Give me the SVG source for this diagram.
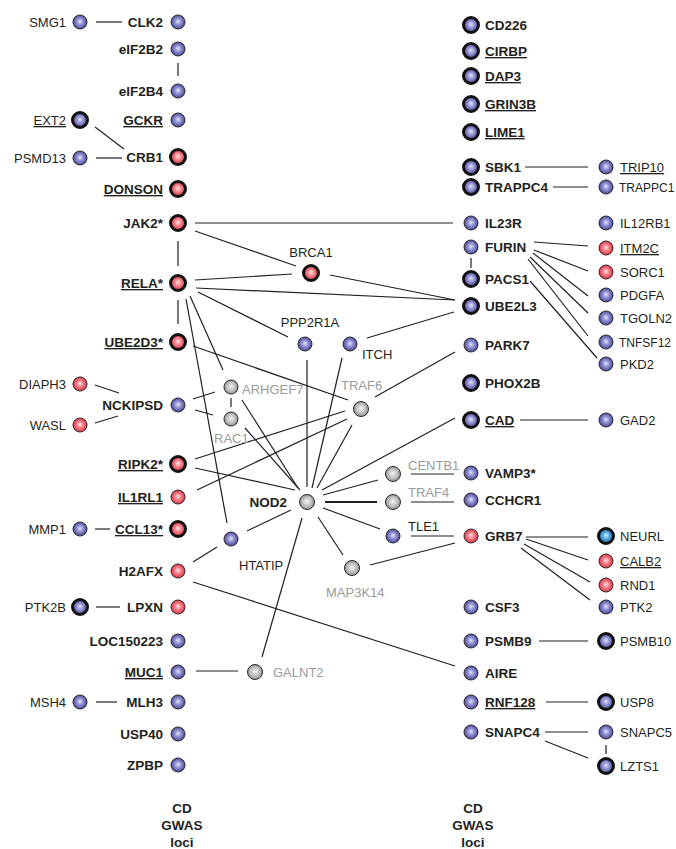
<svg xmlns="http://www.w3.org/2000/svg" width="676" height="849" viewBox="0 0 676 849">
<defs>
<radialGradient id="gb" cx="0.5" cy="0.5" r="0.55" fx="0.5" fy="0.45"><stop offset="0" stop-color="#e4e4f8"/><stop offset="0.45" stop-color="#8c8cd0"/><stop offset="1" stop-color="#3c3c90"/></radialGradient>
<radialGradient id="gr" cx="0.5" cy="0.5" r="0.55" fx="0.5" fy="0.45"><stop offset="0" stop-color="#ffe4e4"/><stop offset="0.45" stop-color="#f57a84"/><stop offset="1" stop-color="#d8243a"/></radialGradient>
<radialGradient id="gy" cx="0.5" cy="0.5" r="0.55" fx="0.5" fy="0.45"><stop offset="0" stop-color="#f6f6f6"/><stop offset="0.5" stop-color="#c4c4c4"/><stop offset="1" stop-color="#8c8c8c"/></radialGradient>
<radialGradient id="gc" cx="0.5" cy="0.5" r="0.55" fx="0.5" fy="0.45"><stop offset="0" stop-color="#d8f2ff"/><stop offset="0.45" stop-color="#4aa4dc"/><stop offset="1" stop-color="#1a64a8"/></radialGradient>
</defs>
<style>
circle{stroke:#2a2a2a;stroke-width:1}
.b{fill:url(#gb)} .r{fill:url(#gr)} .y{fill:url(#gy)} .c{fill:url(#gc)}
.k{stroke:#111;stroke-width:3}
text{font-family:"Liberation Sans",Arial,sans-serif}
.m{font-weight:bold;font-size:13.5px;fill:#231f20}
.p{font-size:13px;fill:#231f20}
.q{font-size:13px;fill:#9a9a9a}
.u{text-decoration:underline}
.e{text-anchor:end}
.mid{text-anchor:middle}
#edges line{stroke:#231f20;stroke-width:1.2}
</style>
<g id="edges">
<line x1="96" y1="22" x2="122" y2="22"/>
<line x1="178" y1="63" x2="178" y2="76"/>
<line x1="95" y1="127" x2="124" y2="149"/>
<line x1="96" y1="158" x2="122" y2="158"/>
<line x1="178" y1="241" x2="178" y2="266"/>
<line x1="178" y1="300" x2="178" y2="324"/>
<line x1="95" y1="385" x2="119" y2="393"/>
<line x1="95" y1="423" x2="118" y2="416"/>
<line x1="95" y1="529" x2="110" y2="529"/>
<line x1="96" y1="607" x2="120" y2="607"/>
<line x1="96" y1="702" x2="117" y2="702"/>
<line x1="196" y1="671" x2="238" y2="671"/>
<line x1="195" y1="223" x2="453" y2="223"/>
<line x1="195" y1="231" x2="296" y2="266"/>
<line x1="330" y1="275" x2="455" y2="300"/>
<line x1="195" y1="280" x2="292" y2="274"/>
<line x1="196" y1="288" x2="455" y2="300"/>
<line x1="198" y1="292" x2="288" y2="337"/>
<line x1="190" y1="296" x2="223" y2="370"/>
<line x1="186" y1="299" x2="227" y2="523"/>
<line x1="193" y1="346" x2="348" y2="400"/>
<line x1="193" y1="399" x2="215" y2="392"/>
<line x1="195" y1="410" x2="213" y2="415"/>
<line x1="231" y1="398" x2="231" y2="407"/>
<line x1="242" y1="400" x2="298" y2="488"/>
<line x1="245" y1="428" x2="300" y2="490"/>
<line x1="195" y1="459" x2="345" y2="411"/>
<line x1="195" y1="468" x2="295" y2="490"/>
<line x1="197" y1="490" x2="347" y2="419"/>
<line x1="307" y1="360" x2="307" y2="487"/>
<line x1="342" y1="358" x2="312" y2="488"/>
<line x1="352" y1="425" x2="317" y2="488"/>
<line x1="367" y1="338" x2="454" y2="312"/>
<line x1="375" y1="397" x2="455" y2="352"/>
<line x1="247" y1="531" x2="291" y2="510"/>
<line x1="193" y1="562" x2="217" y2="547"/>
<line x1="193" y1="582" x2="455" y2="666"/>
<line x1="322" y1="490" x2="455" y2="418"/>
<line x1="323" y1="495" x2="378" y2="480"/>
<line x1="325" y1="502" x2="377" y2="502" style="stroke-width:2.2"/>
<line x1="323" y1="508" x2="380" y2="529"/>
<line x1="318" y1="517" x2="343" y2="555"/>
<line x1="302" y1="518" x2="262" y2="657"/>
<line x1="370" y1="565" x2="455" y2="543"/>
<line x1="411" y1="474" x2="454" y2="474"/>
<line x1="411" y1="502" x2="454" y2="502"/>
<line x1="411" y1="536" x2="454" y2="536"/>
<line x1="525" y1="167" x2="588" y2="167"/>
<line x1="553" y1="187" x2="588" y2="187"/>
<line x1="471" y1="258" x2="471" y2="268"/>
<line x1="534" y1="242" x2="588" y2="246"/>
<line x1="534" y1="250" x2="588" y2="271"/>
<line x1="533" y1="253" x2="588" y2="296"/>
<line x1="530" y1="257" x2="588" y2="313"/>
<line x1="528" y1="259" x2="588" y2="336"/>
<line x1="530" y1="281" x2="597" y2="358"/>
<line x1="520" y1="420" x2="588" y2="420"/>
<line x1="526" y1="537" x2="588" y2="537"/>
<line x1="526" y1="539" x2="588" y2="560"/>
<line x1="524" y1="544" x2="590" y2="582"/>
<line x1="521" y1="548" x2="590" y2="600"/>
<line x1="539" y1="641" x2="588" y2="641"/>
<line x1="546" y1="702" x2="588" y2="702"/>
<line x1="545" y1="732" x2="588" y2="732"/>
<line x1="545" y1="741" x2="588" y2="758"/>
<line x1="606" y1="745" x2="606" y2="754"/>
</g>
<!-- left column -->
<g id="n-CLK2"><circle class="b" cx="178" cy="22" r="7"/><text class="m e" x="163" y="27">CLK2</text></g>
<g id="n-eIF2B2"><circle class="b" cx="178" cy="49" r="7"/><text class="m e" x="163" y="54">eIF2B2</text></g>
<g id="n-eIF2B4"><circle class="b" cx="178" cy="91" r="7"/><text class="m e" x="163" y="96">eIF2B4</text></g>
<g id="n-GCKR"><circle class="b" cx="178" cy="120" r="7"/><text class="m e u" x="163" y="125">GCKR</text></g>
<g id="n-CRB1"><circle class="r k" cx="178" cy="157" r="7.5"/><text class="m e" x="163" y="162">CRB1</text></g>
<g id="n-DONSON"><circle class="r k" cx="178" cy="189" r="7.5"/><text class="m e u" x="163" y="194">DONSON</text></g>
<g id="n-JAK2"><circle class="r k" cx="178" cy="223" r="7.5"/><text class="m e" x="163" y="228">JAK2*</text></g>
<g id="n-RELA"><circle class="r k" cx="178" cy="283" r="7.5"/><text class="m e u" x="163" y="288">RELA*</text></g>
<g id="n-UBE2D3"><circle class="r k" cx="178" cy="342" r="7.5"/><text class="m e u" x="163" y="347">UBE2D3*</text></g>
<g id="n-NCKIPSD"><circle class="b" cx="178" cy="405" r="7"/><text class="m e" x="163" y="410">NCKIPSD</text></g>
<g id="n-RIPK2"><circle class="r k" cx="178" cy="464" r="7.5"/><text class="m e u" x="163" y="469">RIPK2*</text></g>
<g id="n-IL1RL1"><circle class="r" cx="178" cy="497" r="7"/><text class="m e u" x="163" y="502">IL1RL1</text></g>
<g id="n-CCL13"><circle class="r k" cx="178" cy="529" r="7.5"/><text class="m e u" x="163" y="534">CCL13*</text></g>
<g id="n-H2AFX"><circle class="r" cx="178" cy="571" r="7"/><text class="m e" x="163" y="576">H2AFX</text></g>
<g id="n-LPXN"><circle class="r" cx="178" cy="607" r="7"/><text class="m e" x="163" y="612">LPXN</text></g>
<g id="n-LOC150223"><circle class="b" cx="178" cy="641" r="7"/><text class="m e" x="163" y="646">LOC150223</text></g>
<g id="n-MUC1"><circle class="b" cx="178" cy="672" r="7"/><text class="m e u" x="163" y="677">MUC1</text></g>
<g id="n-MLH3"><circle class="b" cx="178" cy="702" r="7"/><text class="m e" x="163" y="707">MLH3</text></g>
<g id="n-USP40"><circle class="b" cx="178" cy="734" r="7"/><text class="m e" x="163" y="739">USP40</text></g>
<g id="n-ZPBP"><circle class="b" cx="178" cy="765" r="7"/><text class="m e" x="163" y="770">ZPBP</text></g>
<!-- left partners -->
<g id="n-SMG1"><circle class="b" cx="80" cy="22" r="7"/><text class="p e" x="66" y="27">SMG1</text></g>
<g id="n-EXT2"><circle class="b k" cx="80" cy="120" r="7.5"/><text class="p e u" x="66" y="125">EXT2</text></g>
<g id="n-PSMD13"><circle class="b" cx="80" cy="158" r="7"/><text class="p e" x="66" y="163">PSMD13</text></g>
<g id="n-DIAPH3"><circle class="r" cx="80" cy="384" r="7"/><text class="p e" x="66" y="389">DIAPH3</text></g>
<g id="n-WASL"><circle class="r" cx="80" cy="425" r="7"/><text class="p e" x="66" y="430">WASL</text></g>
<g id="n-MMP1"><circle class="b" cx="80" cy="529" r="7"/><text class="p e" x="66" y="534">MMP1</text></g>
<g id="n-PTK2B"><circle class="b k" cx="80" cy="607" r="7.5"/><text class="p e" x="66" y="612">PTK2B</text></g>
<g id="n-MSH4"><circle class="b" cx="80" cy="702" r="7"/><text class="p e" x="66" y="707">MSH4</text></g>
<!-- central -->
<g id="n-BRCA1"><circle class="r k" cx="311" cy="273" r="7.5"/><text class="p mid" x="311" y="257">BRCA1</text></g>
<g id="n-PPP2R1A"><circle class="b" cx="305" cy="344" r="7"/><text class="p mid" x="310" y="327">PPP2R1A</text></g>
<g id="n-ITCH"><circle class="b" cx="350" cy="344" r="7"/><text class="p" x="362" y="359">ITCH</text></g>
<g id="n-ARHGEF7"><circle class="y" cx="231" cy="387" r="7"/><text class="q" x="242" y="394">ARHGEF7</text></g>
<g id="n-RAC1"><circle class="y" cx="231" cy="419" r="7"/><text class="q" x="214" y="443">RAC1</text></g>
<g id="n-TRAF6"><circle class="y" cx="361" cy="409" r="7.5"/><text class="q" x="341" y="390">TRAF6</text></g>
<g id="n-NOD2"><circle class="y" cx="307" cy="502" r="7.5"/><text class="m e" x="287" y="507">NOD2</text></g>
<g id="n-CENTB1"><circle class="y" cx="393" cy="474" r="7.5"/><text class="q" x="408" y="470">CENTB1</text></g>
<g id="n-TRAF4"><circle class="y" cx="393" cy="502" r="7.5"/><text class="q" x="408" y="497">TRAF4</text></g>
<g id="n-TLE1"><circle class="b" cx="393" cy="536" r="7"/><text class="p" x="408" y="531">TLE1</text></g>
<g id="n-HTATIP"><circle class="b" cx="231" cy="539" r="7"/><text class="p" x="239" y="570">HTATIP</text></g>
<g id="n-MAP3K14"><circle class="y" cx="352" cy="568" r="7.5"/><text class="q" x="326" y="597">MAP3K14</text></g>
<g id="n-GALNT2"><circle class="y" cx="255" cy="672" r="7.5"/><text class="q" x="273" y="677">GALNT2</text></g>
<!-- right column -->
<g id="n-CD226"><circle class="b k" cx="471" cy="25" r="7.5"/><text class="m" x="485" y="30">CD226</text></g>
<g id="n-CIRBP"><circle class="b k" cx="471" cy="51" r="7.5"/><text class="m u" x="485" y="56">CIRBP</text></g>
<g id="n-DAP3"><circle class="b k" cx="471" cy="76" r="7.5"/><text class="m u" x="485" y="81">DAP3</text></g>
<g id="n-GRIN3B"><circle class="b k" cx="471" cy="104" r="7.5"/><text class="m u" x="485" y="109">GRIN3B</text></g>
<g id="n-LIME1"><circle class="b k" cx="471" cy="132" r="7.5"/><text class="m u" x="485" y="137">LIME1</text></g>
<g id="n-SBK1"><circle class="b k" cx="471" cy="167" r="7.5"/><text class="m" x="485" y="172">SBK1</text></g>
<g id="n-TRAPPC4"><circle class="b k" cx="471" cy="187" r="7.5"/><text class="m" x="485" y="192">TRAPPC4</text></g>
<g id="n-IL23R"><circle class="b" cx="471" cy="223" r="7"/><text class="m" x="485" y="228">IL23R</text></g>
<g id="n-FURIN"><circle class="b" cx="471" cy="247" r="7"/><text class="m" x="485" y="252">FURIN</text></g>
<g id="n-PACS1"><circle class="b k" cx="471" cy="279" r="7.5"/><text class="m" x="485" y="284">PACS1</text></g>
<g id="n-UBE2L3"><circle class="b k" cx="471" cy="306" r="7.5"/><text class="m" x="485" y="311">UBE2L3</text></g>
<g id="n-PARK7"><circle class="b" cx="471" cy="345" r="7"/><text class="m" x="485" y="350">PARK7</text></g>
<g id="n-PHOX2B"><circle class="b k" cx="471" cy="383" r="7.5"/><text class="m" x="485" y="388">PHOX2B</text></g>
<g id="n-CAD"><circle class="b k" cx="471" cy="420" r="7.5"/><text class="m u" x="485" y="425">CAD</text></g>
<g id="n-VAMP3"><circle class="b" cx="471" cy="473" r="7"/><text class="m" x="485" y="478">VAMP3*</text></g>
<g id="n-CCHCR1"><circle class="b" cx="471" cy="500" r="7"/><text class="m" x="485" y="505">CCHCR1</text></g>
<g id="n-GRB7"><circle class="r" cx="471" cy="536" r="7"/><text class="m" x="485" y="541">GRB7</text></g>
<g id="n-CSF3"><circle class="b" cx="471" cy="607" r="7"/><text class="m" x="485" y="612">CSF3</text></g>
<g id="n-PSMB9"><circle class="b" cx="471" cy="641" r="7"/><text class="m" x="485" y="646">PSMB9</text></g>
<g id="n-AIRE"><circle class="b" cx="471" cy="673" r="7"/><text class="m" x="485" y="678">AIRE</text></g>
<g id="n-RNF128"><circle class="b" cx="471" cy="702" r="7"/><text class="m u" x="485" y="707">RNF128</text></g>
<g id="n-SNAPC4"><circle class="b" cx="471" cy="732" r="7"/><text class="m" x="485" y="737">SNAPC4</text></g>
<!-- right partners -->
<g id="n-TRIP10"><circle class="b" cx="606" cy="167" r="7"/><text class="p u" x="620" y="172">TRIP10</text></g>
<g id="n-TRAPPC1"><circle class="b" cx="606" cy="187" r="7"/><text class="p" x="619" y="192" style="font-size:12px">TRAPPC1</text></g>
<g id="n-IL12RB1"><circle class="b" cx="606" cy="223" r="7"/><text class="p" x="620" y="228">IL12RB1</text></g>
<g id="n-ITM2C"><circle class="r" cx="606" cy="248" r="7"/><text class="p u" x="620" y="253">ITM2C</text></g>
<g id="n-SORC1"><circle class="r" cx="606" cy="272" r="7"/><text class="p" x="620" y="277">SORC1</text></g>
<g id="n-PDGFA"><circle class="b" cx="606" cy="295" r="7"/><text class="p" x="620" y="300">PDGFA</text></g>
<g id="n-TGOLN2"><circle class="b" cx="606" cy="318" r="7"/><text class="p" x="620" y="323">TGOLN2</text></g>
<g id="n-TNFSF12"><circle class="b" cx="606" cy="342" r="7"/><text class="p" x="619" y="347" style="font-size:12px">TNFSF12</text></g>
<g id="n-PKD2"><circle class="b" cx="606" cy="364" r="7"/><text class="p" x="620" y="369">PKD2</text></g>
<g id="n-GAD2"><circle class="b" cx="606" cy="420" r="7"/><text class="p" x="620" y="425">GAD2</text></g>
<g id="n-NEURL"><circle class="c k" cx="606" cy="536" r="7.5"/><text class="p" x="620" y="541">NEURL</text></g>
<g id="n-CALB2"><circle class="r" cx="606" cy="561" r="7"/><text class="p u" x="620" y="566">CALB2</text></g>
<g id="n-RND1"><circle class="r" cx="606" cy="585" r="7"/><text class="p" x="620" y="590">RND1</text></g>
<g id="n-PTK2"><circle class="b" cx="606" cy="607" r="7"/><text class="p" x="620" y="612">PTK2</text></g>
<g id="n-PSMB10"><circle class="b k" cx="606" cy="641" r="7.5"/><text class="p" x="620" y="646">PSMB10</text></g>
<g id="n-USP8"><circle class="b k" cx="606" cy="702" r="7.5"/><text class="p" x="620" y="707">USP8</text></g>
<g id="n-SNAPC5"><circle class="b" cx="606" cy="732" r="7"/><text class="p" x="620" y="737">SNAPC5</text></g>
<g id="n-LZTS1"><circle class="b k" cx="606" cy="766" r="7.5"/><text class="p" x="620" y="771">LZTS1</text></g>
<!-- column captions -->
<g id="cap-left"><text class="m mid" x="182" y="813">CD</text><text class="m mid" x="182" y="830">GWAS</text><text class="m mid" x="182" y="847">loci</text></g>
<g id="cap-right"><text class="m mid" x="473" y="813">CD</text><text class="m mid" x="473" y="830">GWAS</text><text class="m mid" x="473" y="847">loci</text></g>
</svg>
